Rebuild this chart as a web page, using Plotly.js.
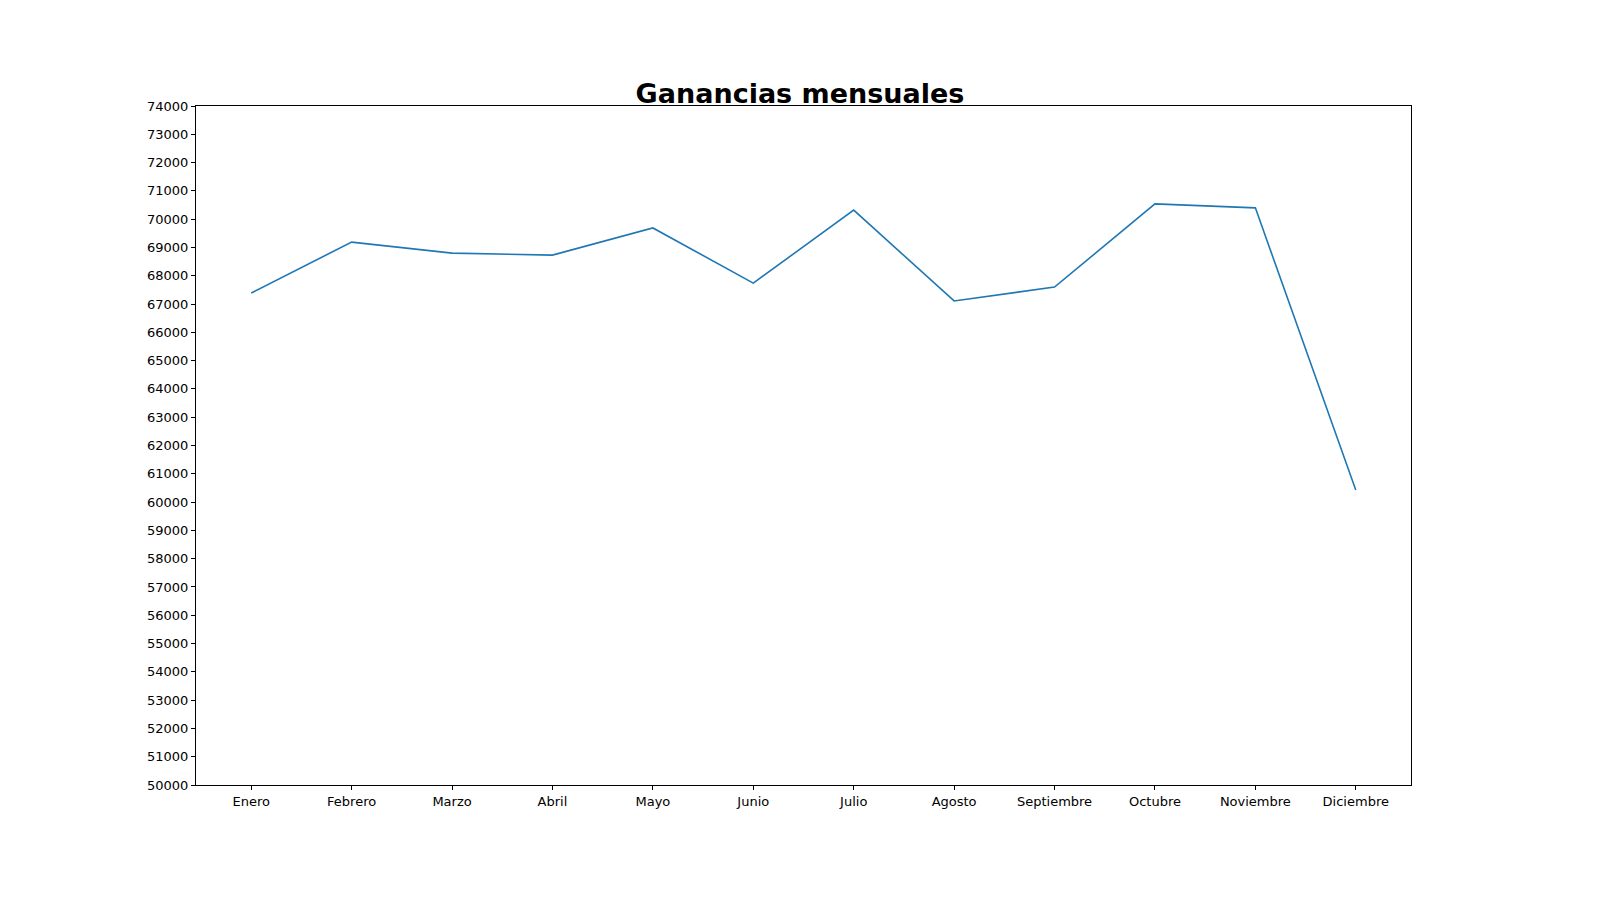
<!DOCTYPE html>
<html>
<head>
<meta charset="utf-8">
<script src="https://cdn.plot.ly/plotly-3.0.1.min.js"></script>
<style>body{margin:0}</style>
</head>
<body>
<div id="myPlot" style="width:1600px;height:900px"></div>
<script>
let meses=['Enero','Febrero','Marzo','Abril','Mayo','Junio','Julio','Agosto','Septiembre','Octubre','Noviembre','Diciembre']
let ganancias=[67390,69190,68800,68730,69690,67740,70320,67110,67600,70540,70400,60430]

let data=[{x:meses,y:ganancias,mode:'lines',line:{color:'#1f77b4',width:1.6}}]

let layout={
    width:1600,height:900,
    margin:{l:196,r:189,t:106,b:115},
    showlegend:false,
    paper_bgcolor:'white',plot_bgcolor:'white',
    font:{family:'DejaVu Sans',size:13,color:'black'},
    title:{text:'<b>Ganancias mensuales</b>',font:{size:27},x:0.5,xanchor:'center',y:0.886,yanchor:'bottom'},
    xaxis:{range:[-0.55,11.55],showgrid:false,zeroline:false,showline:true,mirror:true,linecolor:'black',linewidth:1,ticks:'outside',ticklen:4,tickcolor:'black'},
    yaxis:{range:[50000,74000],dtick:1000,tickformat:'d',showgrid:false,zeroline:false,showline:true,mirror:true,linecolor:'black',linewidth:1,ticks:'outside',ticklen:4,tickcolor:'black'}
}

Plotly.newPlot('myPlot',data,layout,{staticPlot:true})
</script>
</body>
</html>
